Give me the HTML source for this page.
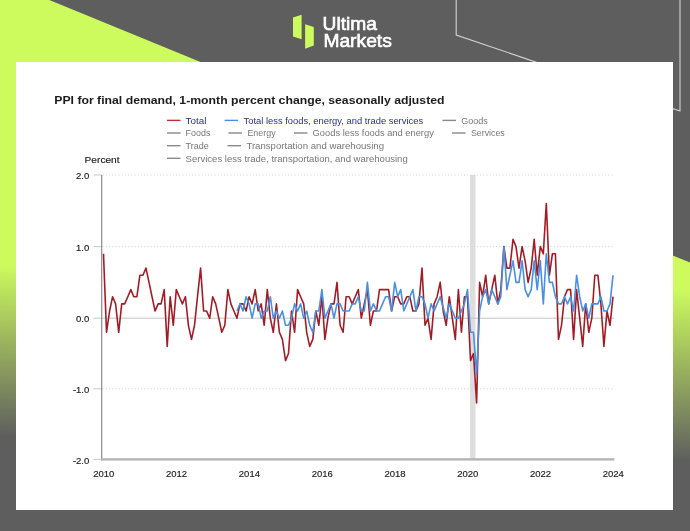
<!DOCTYPE html>
<html><head><meta charset="utf-8"><title>PPI</title>
<style>
html,body{margin:0;padding:0;background:#5e5e5e;}
body{width:690px;height:531px;overflow:hidden;font-family:"Liberation Sans",sans-serif;}
svg{display:block;font-family:"Liberation Sans",sans-serif;}
</style></head><body>
<svg width="690" height="531" viewBox="0 0 690 531">
<defs>
<linearGradient id="lg" gradientUnits="userSpaceOnUse" x1="0" y1="264" x2="-6.3" y2="436">
<stop offset="0" stop-color="#cdfb5e"/><stop offset="1" stop-color="#5e5e5e"/>
</linearGradient>
<filter id="soft" x="-2%" y="-2%" width="104%" height="104%"><feGaussianBlur stdDeviation="0.45"/></filter>
<filter id="soft2" x="-5%" y="-20%" width="110%" height="140%"><feGaussianBlur stdDeviation="0.3"/></filter>
</defs>
<rect width="690" height="531" fill="#5e5e5e"/>
<polygon points="0,0 49.3,0 690,262.6 690,531 0,531" fill="url(#lg)"/>
<polyline points="456.2,-1 456.2,35 680,111 680,-1" fill="none" stroke="#d4d4d4" stroke-width="1.1"/>
<!-- logo -->
<polygon points="293,17.5 301.6,14.8 301.6,39.3 293,36.6" fill="#cdfb5e"/>
<polygon points="305.1,24.3 313.8,27 313.8,45.4 305.1,48.7" fill="#cdfb5e"/>
<g fill="#fff" stroke="#fff" stroke-width="0.65" font-size="19" filter="url(#soft2)">
<text x="322.6" y="30" textLength="54.4" lengthAdjust="spacingAndGlyphs">Ultima</text>
<text x="323.4" y="47.4" textLength="68.4" lengthAdjust="spacingAndGlyphs">Markets</text>
</g>
<!-- panel -->
<rect x="16" y="62" width="657" height="448" fill="#fff"/>
<g filter="url(#soft)">
<text x="54.3" y="104" font-size="11" font-weight="bold" fill="#1c1c1c" textLength="390.2" lengthAdjust="spacingAndGlyphs">PPI for final demand, 1-month percent change, seasonally adjusted</text>
<g font-size="9">
<line x1="167.0" y1="120.4" x2="180.5" y2="120.4" stroke="#b5303a" stroke-width="1.4"/><text x="185.6" y="123.6" fill="#2a2f8f" textLength="20.8" lengthAdjust="spacingAndGlyphs">Total</text>
<line x1="224.6" y1="120.4" x2="238.1" y2="120.4" stroke="#4a90e2" stroke-width="1.4"/><text x="243.5" y="123.6" fill="#2a2f8f" textLength="179.6" lengthAdjust="spacingAndGlyphs">Total less foods, energy, and trade services</text>
<line x1="442.5" y1="120.4" x2="456.0" y2="120.4" stroke="#888" stroke-width="1.4"/><text x="461.2" y="123.6" fill="#777" textLength="26.6" lengthAdjust="spacingAndGlyphs">Goods</text>
<line x1="167.0" y1="133.0" x2="180.5" y2="133.0" stroke="#888" stroke-width="1.4"/><text x="185.6" y="136.2" fill="#777" textLength="24.8" lengthAdjust="spacingAndGlyphs">Foods</text>
<line x1="228.4" y1="133.0" x2="241.9" y2="133.0" stroke="#888" stroke-width="1.4"/><text x="247.4" y="136.2" fill="#777" textLength="28.2" lengthAdjust="spacingAndGlyphs">Energy</text>
<line x1="294.0" y1="133.0" x2="307.5" y2="133.0" stroke="#888" stroke-width="1.4"/><text x="312.6" y="136.2" fill="#777" textLength="121.2" lengthAdjust="spacingAndGlyphs">Goods less foods and energy</text>
<line x1="452.1" y1="133.0" x2="465.6" y2="133.0" stroke="#888" stroke-width="1.4"/><text x="470.9" y="136.2" fill="#777" textLength="33.9" lengthAdjust="spacingAndGlyphs">Services</text>
<line x1="167.0" y1="145.7" x2="180.5" y2="145.7" stroke="#888" stroke-width="1.4"/><text x="185.6" y="148.9" fill="#777" textLength="23.2" lengthAdjust="spacingAndGlyphs">Trade</text>
<line x1="227.5" y1="145.7" x2="241.0" y2="145.7" stroke="#888" stroke-width="1.4"/><text x="246.4" y="148.9" fill="#777" textLength="137.6" lengthAdjust="spacingAndGlyphs">Transportation and warehousing</text>
<line x1="167.0" y1="158.3" x2="180.5" y2="158.3" stroke="#888" stroke-width="1.4"/><text x="185.6" y="161.5" fill="#777" textLength="222.1" lengthAdjust="spacingAndGlyphs">Services less trade, transportation, and warehousing</text>
</g>
<g font-size="9.5" stroke="#222" stroke-width="0.15">
<text x="84.6" y="162.6" fill="#222" textLength="35" lengthAdjust="spacingAndGlyphs">Percent</text>
<text x="89.3" y="179.2" text-anchor="end" fill="#222">2.0</text>
<line x1="93.5" y1="175.0" x2="101.5" y2="175.0" stroke="#c6d3e6" stroke-width="1.2"/>
<text x="89.3" y="250.8" text-anchor="end" fill="#222">1.0</text>
<line x1="93.5" y1="246.6" x2="101.5" y2="246.6" stroke="#c6d3e6" stroke-width="1.2"/>
<text x="89.3" y="322.4" text-anchor="end" fill="#222">0.0</text>
<line x1="93.5" y1="318.2" x2="101.5" y2="318.2" stroke="#c6d3e6" stroke-width="1.2"/>
<text x="89.3" y="393.0" text-anchor="end" fill="#222">-1.0</text>
<line x1="93.5" y1="388.8" x2="101.5" y2="388.8" stroke="#c6d3e6" stroke-width="1.2"/>
<text x="89.3" y="463.6" text-anchor="end" fill="#222">-2.0</text>
<line x1="93.5" y1="459.4" x2="101.5" y2="459.4" stroke="#c6d3e6" stroke-width="1.2"/>
<text x="103.8" y="476.6" text-anchor="middle" fill="#222">2010</text>
<text x="176.6" y="476.6" text-anchor="middle" fill="#222">2012</text>
<text x="249.4" y="476.6" text-anchor="middle" fill="#222">2014</text>
<text x="322.2" y="476.6" text-anchor="middle" fill="#222">2016</text>
<text x="395.0" y="476.6" text-anchor="middle" fill="#222">2018</text>
<text x="467.8" y="476.6" text-anchor="middle" fill="#222">2020</text>
<text x="540.6" y="476.6" text-anchor="middle" fill="#222">2022</text>
<text x="613.3" y="476.6" text-anchor="middle" fill="#222">2024</text>
</g>
<rect x="470" y="175.0" width="5.5" height="284.4" fill="#dedede"/>
<line x1="102.5" y1="175.0" x2="614.2" y2="175.0" stroke="#cfcfcf" stroke-width="1" stroke-dasharray="1 2.2"/>
<line x1="102.5" y1="246.6" x2="614.2" y2="246.6" stroke="#cfcfcf" stroke-width="1" stroke-dasharray="1 2.2"/>
<line x1="102.5" y1="388.8" x2="614.2" y2="388.8" stroke="#cfcfcf" stroke-width="1" stroke-dasharray="1 2.2"/>
<line x1="102.5" y1="318.2" x2="614" y2="318.2" stroke="#c4c4c4" stroke-width="1"/>

<line x1="101.7" y1="175.0" x2="101.7" y2="460.4" stroke="#8a8a8a" stroke-width="1.2"/>
<line x1="101.1" y1="459.4" x2="614.3" y2="459.4" stroke="#b2b2b2" stroke-width="2.4"/>
<path d="M103.5 253.8 L106.5 332.3 L109.6 311.0 L112.6 296.7 L115.6 303.9 L118.7 332.3 L121.7 303.9 L124.7 303.9 L127.8 296.7 L130.8 289.6 L133.8 296.7 L136.9 296.7 L139.9 275.2 L142.9 275.2 L146.0 268.1 L149.0 282.4 L152.0 296.7 L155.1 311.0 L158.1 303.9 L161.1 303.9 L164.2 289.6 L167.2 346.4 L170.2 296.7 L173.3 325.3 L176.3 289.6 L179.3 296.7 L182.4 303.9 L185.4 296.7 L188.4 325.3 L191.5 339.4 L194.5 325.3 L197.5 296.7 L200.6 268.1 L203.6 311.0 L206.6 311.0 L209.7 318.2 L212.7 296.7 L215.7 303.9 L218.8 318.2 L221.8 332.3 L224.8 325.3 L227.9 289.6 L230.9 303.9 L233.9 311.0 L237.0 318.2 L240.0 303.9 L243.0 303.9 L246.1 311.0 L249.1 296.7 L252.1 303.9 L255.2 289.6 L258.2 311.0 L261.2 303.9 L264.2 325.3 L267.3 289.6 L270.3 318.2 L273.3 332.3 L276.4 303.9 L279.4 332.3 L282.4 339.4 L285.5 360.6 L288.5 353.5 L291.5 311.0 L294.6 332.3 L297.6 289.6 L300.6 296.7 L303.7 303.9 L306.7 332.3 L309.7 346.4 L312.8 339.4 L315.8 311.0 L318.8 325.3 L321.9 296.7 L324.9 339.4 L327.9 318.2 L331.0 303.9 L334.0 303.9 L337.0 282.4 L340.1 325.3 L343.1 332.3 L346.1 296.7 L349.2 296.7 L352.2 303.9 L355.2 296.7 L358.3 289.6 L361.3 318.2 L364.3 303.9 L367.4 289.6 L370.4 325.3 L373.4 311.0 L376.5 311.0 L379.5 289.6 L382.5 289.6 L385.6 289.6 L388.6 289.6 L391.6 311.0 L394.7 296.7 L397.7 296.7 L400.7 303.9 L403.8 303.9 L406.8 296.7 L409.8 296.7 L412.9 311.0 L415.9 311.0 L418.9 303.9 L422.0 268.1 L425.0 325.3 L428.0 318.2 L431.1 339.4 L434.1 303.9 L437.1 296.7 L440.2 282.4 L443.2 311.0 L446.2 325.3 L449.3 296.7 L452.3 318.2 L455.3 339.4 L458.4 289.6 L461.4 332.3 L464.4 296.7 L467.5 296.7 L470.5 360.6 L473.5 353.5 L476.6 402.9 L479.6 282.4 L482.6 296.7 L485.7 275.2 L488.7 303.9 L491.7 289.6 L494.8 275.2 L497.8 303.9 L500.8 289.6 L503.9 246.6 L506.9 268.1 L509.9 268.1 L513.0 239.4 L516.0 246.6 L519.0 268.1 L522.1 246.6 L525.1 260.9 L528.1 282.4 L531.2 268.1 L534.2 239.4 L537.2 275.2 L540.3 246.6 L543.3 253.8 L546.3 203.6 L549.4 275.2 L552.4 253.8 L555.4 253.8 L558.5 339.4 L561.5 325.3 L564.5 296.7 L567.5 289.6 L570.6 289.6 L573.6 339.4 L576.6 289.6 L579.7 318.2 L582.7 346.4 L585.7 303.9 L588.8 332.3 L591.8 318.2 L594.8 275.2 L597.9 275.2 L600.9 303.9 L603.9 346.4 L607.0 311.0 L610.0 325.3 L613.0 296.7" fill="none" stroke="#a21f28" stroke-width="1.6" stroke-linejoin="round"/>
<path d="M237.0 311.0 L240.0 303.9 L243.0 311.0 L246.1 296.7 L249.1 303.9 L252.1 318.2 L255.2 303.9 L258.2 303.9 L261.2 318.2 L264.2 311.0 L267.3 311.0 L270.3 296.7 L273.3 318.2 L276.4 311.0 L279.4 318.2 L282.4 311.0 L285.5 325.3 L288.5 325.3 L291.5 318.2 L294.6 303.9 L297.6 311.0 L300.6 303.9 L303.7 318.2 L306.7 311.0 L309.7 325.3 L312.8 332.3 L315.8 311.0 L318.8 311.0 L321.9 289.6 L324.9 318.2 L327.9 311.0 L331.0 303.9 L334.0 318.2 L337.0 303.9 L340.1 303.9 L343.1 311.0 L346.1 311.0 L349.2 311.0 L352.2 303.9 L355.2 303.9 L358.3 296.7 L361.3 311.0 L364.3 311.0 L367.4 282.4 L370.4 311.0 L373.4 303.9 L376.5 311.0 L379.5 311.0 L382.5 303.9 L385.6 296.7 L388.6 296.7 L391.6 311.0 L394.7 282.4 L397.7 296.7 L400.7 289.6 L403.8 311.0 L406.8 303.9 L409.8 296.7 L412.9 289.6 L415.9 311.0 L418.9 296.7 L422.0 296.7 L425.0 303.9 L428.0 318.2 L431.1 303.9 L434.1 311.0 L437.1 303.9 L440.2 296.7 L443.2 307.5 L446.2 318.2 L449.3 303.9 L452.3 311.0 L455.3 318.2 L458.4 318.2 L461.4 311.0 L464.4 303.9 L467.5 289.6 L470.5 332.3 L473.5 332.3 L476.6 374.7 L479.6 311.0 L482.6 296.7 L485.7 289.6 L488.7 303.9 L491.7 289.6 L494.8 296.7 L497.8 303.9 L500.8 296.7 L503.9 246.6 L506.9 289.6 L509.9 275.2 L513.0 260.9 L516.0 282.4 L519.0 282.4 L522.1 260.9 L525.1 289.6 L528.1 296.7 L531.2 289.6 L534.2 260.9 L537.2 289.6 L540.3 260.9 L543.3 303.9 L546.3 253.8 L549.4 282.4 L552.4 282.4 L555.4 296.7 L558.5 303.9 L561.5 303.9 L564.5 296.7 L567.5 303.9 L570.6 296.7 L573.6 311.0 L576.6 275.2 L579.7 296.7 L582.7 311.0 L585.7 303.9 L588.8 318.2 L591.8 303.9 L594.8 303.9 L597.9 303.9 L600.9 296.7 L603.9 311.0 L607.0 311.0 L610.0 303.9 L613.0 275.2" fill="none" stroke="#4a90e2" stroke-width="1.6" stroke-linejoin="round"/>
</g>
</svg>
</body></html>
